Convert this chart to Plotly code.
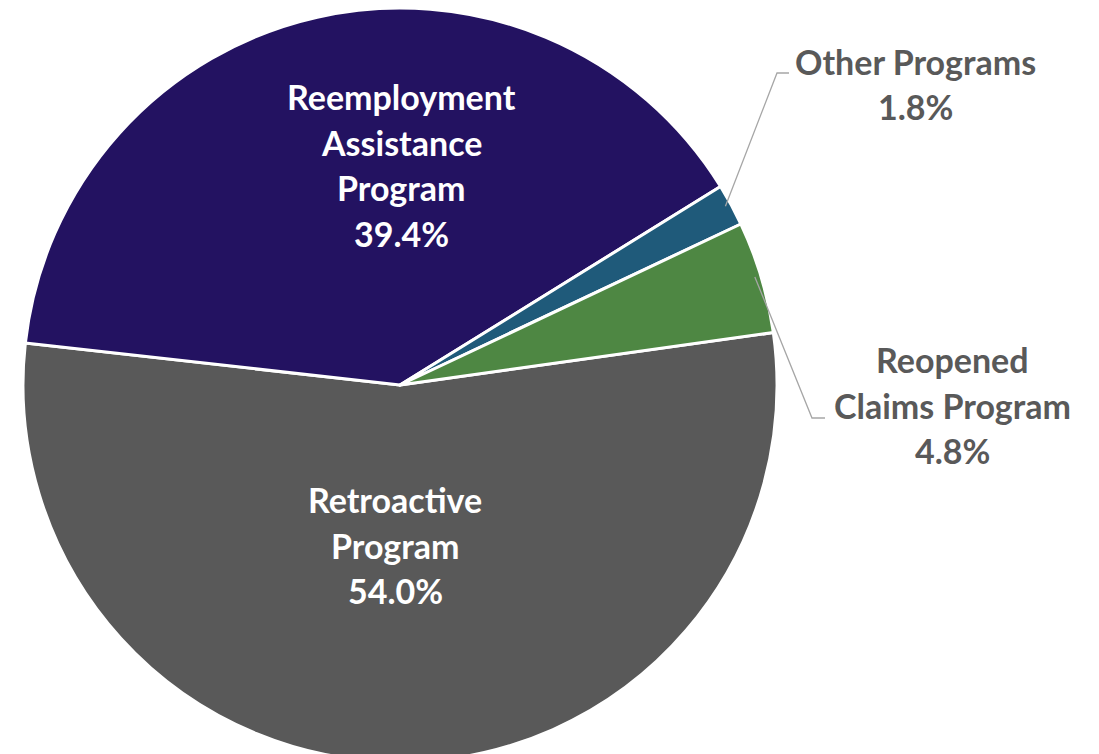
import math
import plotly.graph_objects as go

# ---- data ----
labels = ["Retroactive Program", "Reemployment Assistance Program", "Other Programs", "Reopened Claims Program"]
values = [54.0, 39.4, 1.8, 4.8]
label_lines = [["Retroactive", "Program"],
               ["Reemployment", "Assistance", "Program"],
               ["Other Programs"],
               ["Reopened", "Claims Program"]]
colors = ["#595959", "#231261", "#1F5A7A", "#4E8743"]

# ---- layout helpers (screen pixel coords; page has an 8px body offset) ----
W, H = 1099, 754
OFF = 8
CX, CY, R = 400, 383, 376
ROT = 82
FONT = "Lato"

def px(x):
    return (x - OFF) / W

def py(y):
    return 1 - (y - OFF) / H

fig = go.Figure(go.Pie(
    labels=labels, values=values, sort=False, direction="clockwise",
    rotation=ROT, textinfo="none", hoverinfo="label+percent",
    marker=dict(colors=colors, line=dict(color="white", width=3)),
    domain=dict(x=[px(CX - 377), px(CX + 377)], y=[0, 1]),
    showlegend=False,
))

label_style = [
    dict(x=395, y=545, color="white", inside=True),
    dict(x=401, y=165, color="white", inside=True),
    dict(x=915, y=84, color="#595959", inside=False, lx=777, ly=73, hx=789),
    dict(x=952, y=405, color="#595959", inside=False, lx=812, ly=418, hx=825),
]
LINE_H = 45.5
FS = 34

annotations = []
shapes = []
total = sum(values)
start = ROT
for lines, v, st in zip(label_lines, values, label_style):
    sweep = v / total * 360
    mid = math.radians(start + sweep / 2)
    start += sweep
    all_lines = lines + [f"{v:.1f}%"]
    n = len(all_lines)
    for i, t in enumerate(all_lines):
        yy = st["y"] + (i - (n - 1) / 2) * LINE_H
        annotations.append(dict(
            x=px(st["x"]), y=py(yy), xref="paper", yref="paper",
            text=f"<b>{t}</b>", showarrow=False, xanchor="center", yanchor="middle",
            font=dict(family=FONT, size=FS, color=st["color"]),
        ))
    if not st["inside"]:
        sx = CX + R * math.sin(mid) * 0.985
        sy = CY - R * math.cos(mid) * 0.985
        path = f"M {px(sx)} {py(sy)} L {px(st['lx'])} {py(st['ly'])} L {px(st['hx'])} {py(st['ly'])}"
        shapes.append(dict(type="path", xref="paper", yref="paper", path=path,
                           line=dict(color="#A6A6A6", width=1.3)))

fig.update_layout(
    width=W, height=H, margin=dict(l=0, r=0, t=0, b=0),
    paper_bgcolor="white", plot_bgcolor="white",
    annotations=annotations, shapes=shapes,
)
fig.write_html("out.html")
